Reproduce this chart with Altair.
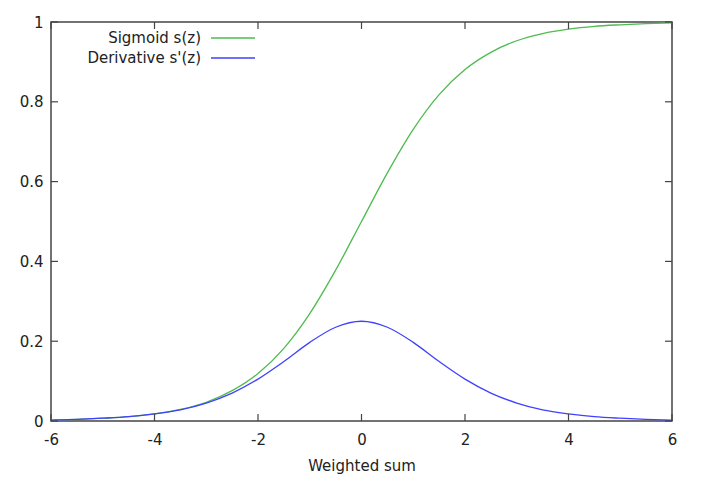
import altair as alt
import pandas as pd

z_values = [-6, -5.5, -5, -4.5, -4, -3.5, -3, -2.5, -2, -1.5, -1, -0.5, 0,
            0.5, 1, 1.5, 2, 2.5, 3, 3.5, 4, 4.5, 5, 5.5, 6]
sigmoid_values = [0.002, 0.004, 0.007, 0.011, 0.018, 0.029, 0.047, 0.076, 0.119, 0.182, 0.269, 0.378, 0.500,
                  0.622, 0.731, 0.818, 0.881, 0.924, 0.953, 0.971, 0.982, 0.989, 0.993, 0.996, 0.998]
derivative_values = [0.002, 0.004, 0.007, 0.011, 0.018, 0.028, 0.045, 0.070, 0.105, 0.149, 0.197, 0.235, 0.250,
                     0.235, 0.197, 0.149, 0.105, 0.070, 0.045, 0.028, 0.018, 0.011, 0.007, 0.004, 0.002]
series_names = ["Sigmoid s(z)", "Derivative s'(z)"]
series_colors = ["#4dbb4d", "#4040ff"]
x_ticks = [-6, -4, -2, 0, 2, 4, 6]
y_ticks = [0, 0.2, 0.4, 0.6, 0.8, 1]

W, H = 621, 399
FONT = "DejaVu Sans"
FS = 15

rows = []
for z, s, d in zip(z_values, sigmoid_values, derivative_values):
    rows.append({"z": z, "v": s, "series": series_names[0]})
    rows.append({"z": z, "v": d, "series": series_names[1]})
df = pd.DataFrame(rows)

xs = alt.Scale(domain=[-6, 6], nice=False, zero=False)
ys = alt.Scale(domain=[0, 1], nice=False)
cs = alt.Scale(domain=series_names, range=series_colors)

x_axis = alt.Axis(values=x_ticks, labelExpr="'' + datum.value", title="Weighted sum",
                  domain=False, ticks=False, grid=False, labelPadding=11, titlePadding=11,
                  labelFlush=False)
y_axis = alt.Axis(values=y_ticks, format="~g", title=None, domain=False, ticks=False,
                  grid=False, labelPadding=8, labelFlush=False)

lines = alt.Chart(df).mark_line(strokeWidth=1.3, interpolate="monotone", clip=True).encode(
    x=alt.X("z:Q", scale=xs, axis=x_axis),
    y=alt.Y("v:Q", scale=ys, axis=y_axis),
    color=alt.Color("series:N", scale=cs, legend=None),
    order=alt.Order("z:Q"),
)

xt = pd.DataFrame({"t": x_ticks})
yt = pd.DataFrame({"t": y_ticks})
tick_style = dict(color="#444444", strokeWidth=1.2)
tb = alt.Chart(xt).mark_rule(**tick_style).encode(
    x=alt.X("t:Q", scale=xs, axis=x_axis), y=alt.value(H), y2=alt.value(H - 7))
tt = alt.Chart(xt).mark_rule(**tick_style).encode(
    x=alt.X("t:Q", scale=xs, axis=x_axis), y=alt.value(0), y2=alt.value(7))
tl = alt.Chart(yt).mark_rule(**tick_style).encode(
    y=alt.Y("t:Q", scale=ys, axis=y_axis), x=alt.value(0), x2=alt.value(7))
tr = alt.Chart(yt).mark_rule(**tick_style).encode(
    y=alt.Y("t:Q", scale=ys, axis=y_axis), x=alt.value(W), x2=alt.value(W - 7))

legend_layers = []
for i, (name, col) in enumerate(zip(series_names, series_colors)):
    ly = 16 + 20 * i
    ld = pd.DataFrame({"series": [name]})
    legend_layers.append(
        alt.Chart(ld).mark_text(align="right", baseline="middle", font=FONT, fontSize=FS,
                                color="#222222").encode(
            x=alt.value(150), y=alt.value(ly), text="series:N"))
    legend_layers.append(
        alt.Chart(ld).mark_rule(strokeWidth=1.3, color=col).encode(
            x=alt.value(160), x2=alt.value(204), y=alt.value(ly)))

chart = alt.layer(lines, tb, tt, tl, tr, *legend_layers).properties(
    width=W, height=H,
    background="white",
    autosize=alt.AutoSizeParams(type="none"),
    padding={"left": 51, "top": 22, "right": 33, "bottom": 59},
).configure_view(stroke="#444444", strokeWidth=1.5).configure_axis(
    labelFont=FONT, labelFontSize=FS, labelColor="#222222",
    titleFont=FONT, titleFontSize=FS, titleColor="#222222", titleFontWeight="normal",
)

chart.save("out.html", embed_options={"renderer": "svg", "actions": False})
